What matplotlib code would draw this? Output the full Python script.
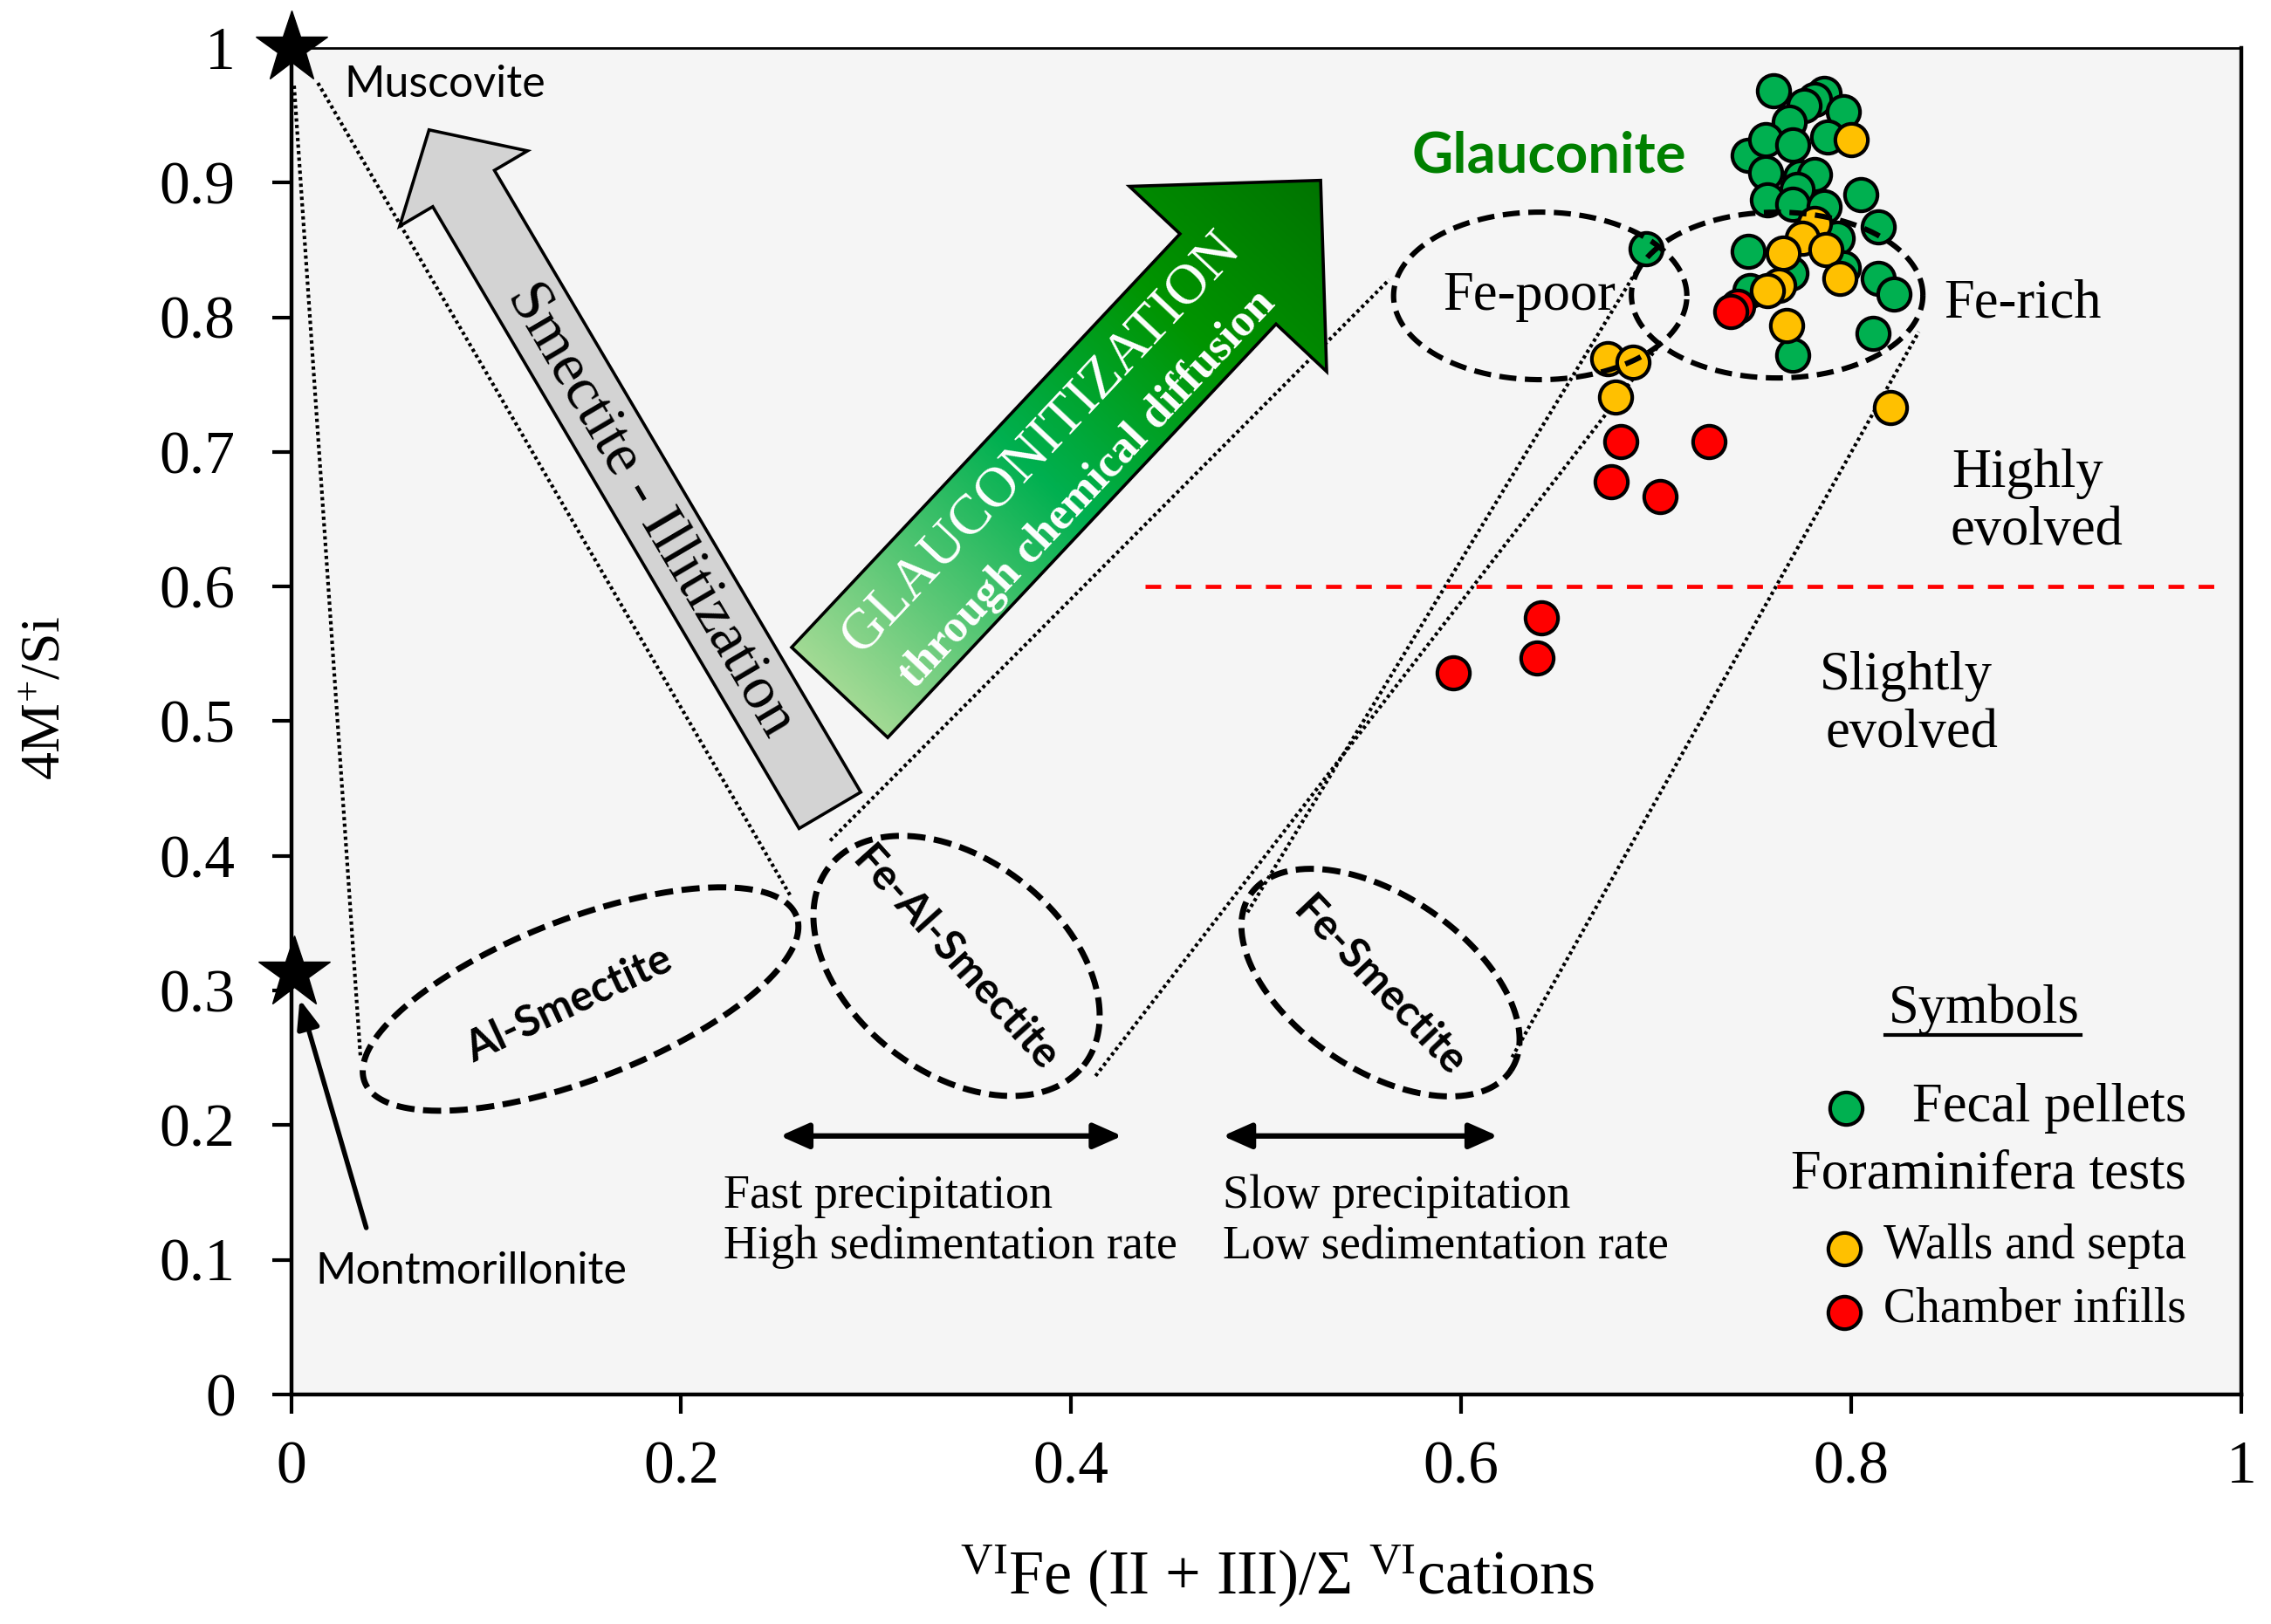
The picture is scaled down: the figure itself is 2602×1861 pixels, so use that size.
import numpy as np
import matplotlib
matplotlib.use('Agg')
import matplotlib.pyplot as plt
from matplotlib.patches import Polygon
from matplotlib.colors import LinearSegmentedColormap

plt.rcParams['font.family'] = ['Liberation Serif', 'DejaVu Serif']
plt.rcParams['mathtext.fontset'] = 'custom'
plt.rcParams['mathtext.rm'] = 'Liberation Serif'
plt.rcParams['mathtext.it'] = 'Liberation Serif:italic'
plt.rcParams['mathtext.bf'] = 'Liberation Serif:bold'

# ---- data ----
fecal_x = [0.760, 0.786, 0.781, 0.776, 0.796, 0.768, 0.788, 0.747, 0.756, 0.770,
           0.756, 0.774, 0.781, 0.757, 0.772, 0.770, 0.786, 0.805, 0.814, 0.793,
           0.747, 0.769, 0.796, 0.814, 0.822, 0.748, 0.770, 0.811, 0.695]
fecal_y = [0.968, 0.966, 0.962, 0.957, 0.953, 0.945, 0.934, 0.920, 0.932, 0.928,
           0.907, 0.904, 0.906, 0.887, 0.895, 0.884, 0.882, 0.891, 0.867, 0.859,
           0.849, 0.833, 0.837, 0.829, 0.817, 0.820, 0.772, 0.788, 0.851]

walls_x = [0.800, 0.781, 0.775, 0.787, 0.765, 0.794, 0.763, 0.757, 0.767, 0.820,
           0.675, 0.688, 0.679]
walls_y = [0.932, 0.870, 0.859, 0.850, 0.848, 0.829, 0.824, 0.820, 0.794, 0.733,
           0.769, 0.767, 0.741]

infill_x = [0.742, 0.738, 0.682, 0.727, 0.677, 0.702, 0.641, 0.639, 0.596]
infill_y = [0.808, 0.804, 0.708, 0.708, 0.678, 0.667, 0.577, 0.547, 0.536]

endmember_x = [0.0, 0.0015]
endmember_y = [1.0, 0.313]

x_ticks = [0, 0.2, 0.4, 0.6, 0.8, 1]
x_ticklabels = ['0', '0.2', '0.4', '0.6', '0.8', '1']
y_ticks = [0, 0.1, 0.2, 0.3, 0.4, 0.5, 0.6, 0.7, 0.8, 0.9, 1]
y_ticklabels = ['0', '0.1', '0.2', '0.3', '0.4', '0.5', '0.6', '0.7', '0.8', '0.9', '1']

GREEN = '#00b050'
YELLOW = '#ffc000'
RED = '#ff0000'

fig = plt.figure(figsize=(26.02, 18.61), dpi=100)
ax = fig.add_axes([0.12821, 0.14132, 0.8587, 0.82913])
ax.set_facecolor('#f5f5f5')

# pixel size of the axes, used to build shapes in pixel space
W = 0.8587 * 26.02 * 100
H = 0.82913 * 18.61 * 100


def ellipse_xy(cx, cy, a, b, ang):
    t = np.linspace(0, 2 * np.pi, 400)
    r = np.deg2rad(ang)
    ex = a * np.cos(t) * np.cos(r) - b * np.sin(t) * np.sin(r)
    ey = a * np.cos(t) * np.sin(r) + b * np.sin(t) * np.cos(r)
    return cx + ex / W, cy + ey / H


def arrow_verts(tip, ang, length, shaft_hw, head_hw, head_len):
    r = np.deg2rad(ang)
    u = np.array([np.cos(r), np.sin(r)])
    p = np.array([-np.sin(r), np.cos(r)])
    base = np.array([tip[0] * W, tip[1] * H])
    pts = [(0, 0), (-head_len, head_hw), (-head_len, shaft_hw), (-length, shaft_hw),
           (-length, -shaft_hw), (-head_len, -shaft_hw), (-head_len, -head_hw)]
    out = []
    for s, q in pts:
        v = base + s * u + q * p
        out.append((v[0] / W, v[1] / H))
    return np.array(out), u


# ---- dotted envelope lines ----
dot_kw = dict(color='black', lw=3.0, linestyle=(0, (0.9, 0.9)), zorder=1.5)
ax.plot([0.0015, 0.0356], [0.972, 0.2495], **dot_kw)
ax.plot([0.0137, 0.2564], [0.974, 0.3694], **dot_kw)
ax.plot([0.2764, 0.5631], [0.4113, 0.828], **dot_kw)
ax.plot([0.4125, 0.7010], [0.2366, 0.7785], **dot_kw)
ax.plot([0.4904, 0.6966], [0.3581, 0.8505], **dot_kw)
ax.plot([0.6261, 0.8346], [0.2505, 0.7892], **dot_kw)

# ---- grey arrow: smectite - illitization ----
gverts, gu = arrow_verts((0.0707, 0.9392), 120.5, 905, 41, 85, 78)
ax.add_patch(Polygon(gverts, closed=True, facecolor='#d3d3d3', edgecolor='black',
                     lw=2.6, zorder=2))
ax.text(0.184, 0.6565, 'Smectite - Illitization', rotation=-59.5, fontsize=50,
        ha='center', va='center', rotation_mode='anchor', zorder=3)

# ---- green gradient arrow: glauconitization ----
tip = (0.5279, 0.9017)
length = 805
verts, u = arrow_verts(tip, 46.8, length, 75.5, 155, 155)
x0, y0 = verts.min(0)
x1, y1 = verts.max(0)
gx, gy = np.meshgrid(np.linspace(x0, x1, 500), np.linspace(y0, y1, 500))
tail = (tip[0] - length * u[0] / W, tip[1] - length * u[1] / H)
proj = ((gx - tail[0]) * W * u[0] + (gy - tail[1]) * H * u[1]) / length
cmap = LinearSegmentedColormap.from_list(
    'glauc', [(0, '#a2da94'), (0.42, '#00b050'), (0.72, '#009400'), (1, '#007400')])
im = ax.imshow(proj, extent=(x0, x1, y0, y1), origin='lower', cmap=cmap,
               vmin=0, vmax=1, aspect='auto', zorder=2, interpolation='bilinear')
garrow = Polygon(verts, closed=True, facecolor='none', edgecolor='black', lw=2.6,
                 zorder=2.1)
ax.add_patch(garrow)
im.set_clip_path(garrow)
ax.text(0.3847, 0.707, 'GLAUCONITIZATION', rotation=46.8, fontsize=47, color='white',
        ha='center', va='center', rotation_mode='anchor', zorder=3)
ax.text(0.4083, 0.672, 'through chemical diffusion', rotation=46.8, fontsize=38,
        color='white', fontweight='bold', ha='center', va='center',
        rotation_mode='anchor', zorder=3)

# ---- points ----
sc_kw = dict(s=720, edgecolors='black', linewidths=3, zorder=3, clip_on=False)
ax.scatter(fecal_x, fecal_y, c=GREEN, **sc_kw)
ax.scatter(walls_x, walls_y, c=YELLOW, **sc_kw)
ax.scatter(infill_x, infill_y, c=RED, **sc_kw)

# ---- dashed ellipses ----
dash_kw = dict(color='black', lw=5.0, linestyle=(0, (3.0, 1.4)), zorder=4)
ax.plot(*ellipse_xy(0.1484, 0.2937, 265, 92, 21), **dash_kw)
ax.plot(*ellipse_xy(0.3412, 0.3183, 185, 122, -38), **dash_kw)
ax.plot(*ellipse_xy(0.5586, 0.3059, 180, 100, -34), **dash_kw)
thin_dash = dict(color='black', lw=4.4, linestyle=(0, (3.2, 1.6)), zorder=4)
ax.plot(*ellipse_xy(0.6405, 0.8159, 168, 96, 0), **thin_dash)
ax.plot(*ellipse_xy(0.762, 0.8165, 167, 95, 0), **thin_dash)

sans_b = dict(family='Lato', fontweight='bold', fontsize=35, ha='center', va='center',
              rotation_mode='anchor', zorder=5)
ax.text(0.1425, 0.290, 'Al-Smectite', rotation=25, **sans_b)
ax.text(0.3405, 0.3237, 'Fe-Al-Smectite', rotation=-48, **sans_b)
ax.text(0.558, 0.3033, 'Fe-Smectite', rotation=-46.5, **sans_b)

# ---- threshold line ----
ax.plot([0.438, 0.992], [0.6, 0.6], color=RED, lw=3.4, linestyle=(0, (3.8, 3.5)), zorder=2)

# ---- end-members ----
ax.plot(endmember_x, endmember_y, linestyle='none', marker='*', ms=62, color='black',
        clip_on=False, zorder=6)
ax.text(0.027, 0.973, 'Muscovite', family='Lato', fontsize=36, ha='left', va='center')
ax.text(0.0126, 0.0914, 'Montmorillonite', family='Lato', fontsize=36, ha='left',
        va='center')
ax.annotate('', xy=(0.0044, 0.2935), xytext=(0.0385, 0.1238),
            arrowprops=dict(arrowstyle='-|>,head_length=0.9,head_width=0.35', lw=4,
                            color='black', shrinkA=0, shrinkB=0, mutation_scale=22))

# ---- region labels ----
ax.text(0.6448, 0.9195, 'Glauconite', family='Lato', fontweight='bold', fontsize=47,
        color='#008000', ha='center', va='center')
ax.text(0.635, 0.815, 'Fe-poor', fontsize=45, ha='center', va='center', zorder=5)
ax.text(0.888, 0.810, 'Fe-rich', fontsize=45, ha='center', va='center')
ax.text(0.8905, 0.684, 'Highly', fontsize=45, ha='center', va='center')
ax.text(0.8949, 0.641, 'evolved', fontsize=45, ha='center', va='center')
ax.text(0.828, 0.5334, 'Slightly', fontsize=45, ha='center', va='center')
ax.text(0.831, 0.4904, 'evolved', fontsize=45, ha='center', va='center')

# ---- precipitation rate arrows ----
for xa, xb in [(0.2507, 0.4261), (0.4777, 0.6188)]:
    ax.annotate('', xy=(xb, 0.192), xytext=(xa, 0.192),
                arrowprops=dict(arrowstyle='<|-|>,head_length=0.9,head_width=0.4',
                                lw=4.5, color='black', shrinkA=0, shrinkB=0,
                                mutation_scale=22))
ax.text(0.2218, 0.1473, 'Fast precipitation', fontsize=39, ha='left', va='center')
ax.text(0.2218, 0.1097, 'High sedimentation rate', fontsize=39, ha='left', va='center')
ax.text(0.4778, 0.1473, 'Slow precipitation', fontsize=39, ha='left', va='center')
ax.text(0.4778, 0.1097, 'Low sedimentation rate', fontsize=39, ha='left', va='center')

# ---- symbols box ----
ax.text(0.868, 0.286, 'Symbols', fontsize=45, ha='center', va='center')
ax.plot([0.8176, 0.9177], [0.267, 0.267], color='black', lw=3)
ax.scatter([0.7975], [0.2126], c=GREEN, **sc_kw)
ax.scatter([0.7963], [0.1085], c=YELLOW, **sc_kw)
ax.scatter([0.7963], [0.0610], c=RED, **sc_kw)
ax.text(0.9718, 0.2126, 'Fecal pellets', fontsize=45, ha='right', va='center')
ax.text(0.9718, 0.1629, 'Foraminifera tests', fontsize=45, ha='right', va='center')
ax.text(0.9718, 0.1100, 'Walls and septa', fontsize=40, ha='right', va='center')
ax.text(0.9718, 0.0630, 'Chamber infills', fontsize=40, ha='right', va='center')

# ---- axes ----
ax.set_xlim(0, 1)
ax.set_ylim(0, 1)
ax.set_xticks(x_ticks)
ax.set_xticklabels(x_ticklabels)
ax.set_yticks(y_ticks)
ax.set_yticklabels(y_ticklabels)
ax.tick_params(axis='both', direction='out', length=16, width=3, labelsize=50)
ax.tick_params(axis='x', pad=22)
ax.tick_params(axis='y', pad=30)
for side in ['left', 'bottom', 'right']:
    ax.spines[side].set_linewidth(3.2)
ax.spines['top'].set_linewidth(2)

fig.text(0.0204, 0.570, r'4M$^{+}$/Si', fontsize=46, rotation=90,
         ha='center', va='center')
fig.text(0.5625, 0.030, r'$^{\mathrm{VI}}$Fe (II + III)/Σ $^{\mathrm{VI}}$cations',
         fontsize=52, ha='center', va='center')

fig.savefig('out.png', dpi=100)
